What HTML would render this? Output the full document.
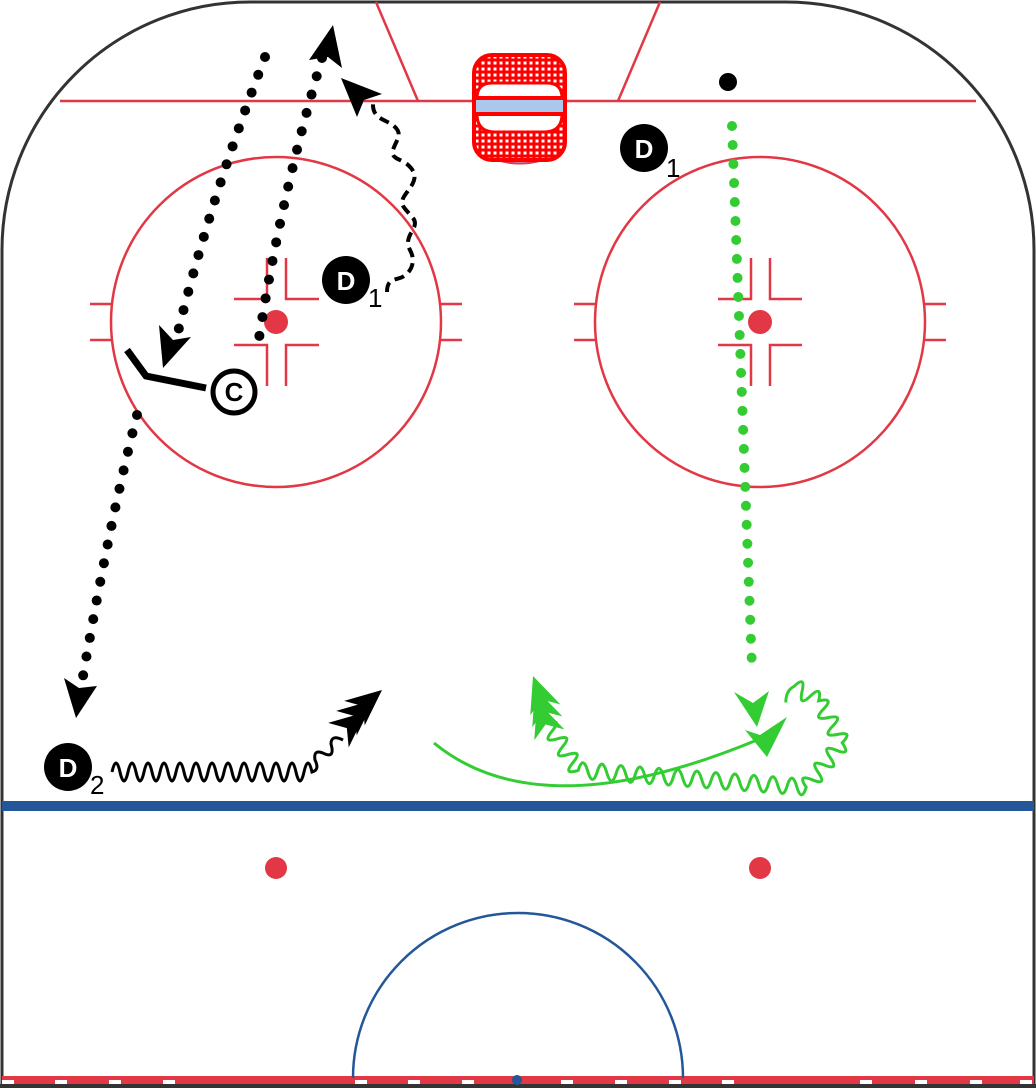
<!DOCTYPE html>
<html><head><style>html,body{margin:0;padding:0;background:#fff}svg{display:block}</style></head>
<body>
<svg width="1036" height="1088" viewBox="0 0 1036 1088" xmlns="http://www.w3.org/2000/svg">
<defs>
<pattern id="mesh" width="6" height="6" patternUnits="userSpaceOnUse"><rect width="6" height="6" fill="#f00"/><rect x="1.5" y="1.5" width="3" height="3" fill="#fff"/></pattern>
<path id="chev" d="M0 0 L-30 -13 L-21 0 L-30 13 Z"/>
<path id="chev2" d="M0 0 L-36 -16 L-25 0 L-36 16 Z"/>
</defs>
<path d="M2 1088 V250 A248 248 0 0 1 250 2 H786 A248 248 0 0 1 1034 250 V1088" fill="none" stroke="#333" stroke-width="3"/>
<rect x="2" y="1076" width="1032" height="8" fill="#e23744"/>
<g fill="#fff">
<rect x="2" y="1080" width="12" height="4"/><rect x="55" y="1080" width="12" height="4"/><rect x="109" y="1080" width="12" height="4"/><rect x="163" y="1080" width="12" height="4"/><rect x="355" y="1080" width="12" height="4"/><rect x="408" y="1080" width="12" height="4"/><rect x="462" y="1080" width="12" height="4"/><rect x="561" y="1080" width="12" height="4"/><rect x="615" y="1080" width="12" height="4"/><rect x="669" y="1080" width="12" height="4"/><rect x="722" y="1080" width="12" height="4"/><rect x="860" y="1080" width="12" height="4"/><rect x="915" y="1080" width="12" height="4"/><rect x="970" y="1080" width="12" height="4"/><rect x="1020" y="1080" width="12" height="4"/>
</g>
<rect x="0" y="1084" width="1036" height="4" fill="#333"/>
<g stroke="#e23744" stroke-width="2.5" fill="none">
<line x1="60" y1="101" x2="976" y2="101"/>
<line x1="376" y1="2" x2="418" y2="101"/>
<line x1="660" y1="2" x2="618" y2="101"/>
<circle cx="276" cy="322" r="165"/>
<circle cx="760" cy="322" r="165"/>
<path d="M90 304H112M90 340H112M440 304H462M440 340H462"/>
<path d="M574 304H596M574 340H596M924 304H946M924 340H946"/>
<path d="M267 258V299H234M286 258V299H319M267 386V345H234M286 386V345H319"/>
<path d="M751 258V299H718M770 258V299H802M751 386V345H718M770 386V345H802"/>
</g>
<g fill="#e23744"><circle cx="276" cy="322" r="12"/><circle cx="760" cy="322" r="12"/><circle cx="276" cy="868" r="11"/><circle cx="760" cy="868" r="11"/></g>
<path d="M484 155 Q520 172 556 155" fill="#a9c8ec" stroke="#e23744" stroke-width="2"/>
<rect x="474" y="55" width="91" height="105" rx="18" fill="url(#mesh)" stroke="#f00" stroke-width="4"/>
<rect x="476" y="98" width="87" height="15" fill="#a9c8ec"/>
<path d="M477 98 Q477 83 492 83 H547 Q562 83 562 98 Z" fill="#fff" stroke="#f00" stroke-width="3"/>
<path d="M477 114 Q477 132 495 132 H544 Q562 132 562 114 Z" fill="#fff" stroke="#f00" stroke-width="3"/>
<line x1="474" y1="98" x2="565" y2="98" stroke="#f00" stroke-width="4"/>
<line x1="474" y1="114" x2="565" y2="114" stroke="#f00" stroke-width="4"/>
<rect x="2" y="801" width="1032" height="10" fill="#23579a"/>
<path d="M353 1078 A165 165 0 0 1 683 1078" fill="none" stroke="#23579a" stroke-width="2.5"/>
<circle cx="517" cy="1080" r="5" fill="#23579a"/>

<g fill="none" stroke="#000" stroke-width="10" stroke-linecap="round" stroke-dasharray="0 19">
<path d="M265 57 Q210 200 176 340"/>
<path d="M322 58 Q280 200 258 345"/>
<path d="M137 415 Q110 520 82 682"/>
</g>
<path d="M163 368 L159 325 L173 340 L191 337 Z" fill="#000"/>
<path d="M333 25 L342 68 L328 57 L309 60 Z" fill="#000"/>
<path d="M76 718 L64 678 L79 688 L97 686 Z" fill="#000"/>
<path d="M387 292 C387 280 393 280 400 278 S418 265 410 250 S421 228 413 218 S398 205 405 195 S419 178 411 168 S390 160 393 150 S403 135 395 127 S372 120 373 103" fill="none" stroke="#000" stroke-width="4" stroke-dasharray="10 6"/>
<path d="M341 78 L382 94 L364 100 L357 117 Z" fill="#000"/>
<path d="M127 350 L146 376 L206 388" fill="none" stroke="#000" stroke-width="7" stroke-linejoin="miter"/>
<circle cx="234" cy="392" r="21" fill="#fff" stroke="#000" stroke-width="5"/>
<text x="234" y="401" font-family="Liberation Sans, sans-serif" font-weight="bold" font-size="26" fill="#000" text-anchor="middle">C</text>

<g font-family="Liberation Sans, sans-serif">
<circle cx="346" cy="280" r="24" fill="#000"/>
<text x="346" y="290" font-weight="bold" font-size="26" fill="#fff" text-anchor="middle">D</text>
<text x="368" y="307" font-size="26" fill="#000">1</text>
<circle cx="644" cy="148" r="24" fill="#000"/>
<text x="644" y="158" font-weight="bold" font-size="26" fill="#fff" text-anchor="middle">D</text>
<text x="666" y="177" font-size="26" fill="#000">1</text>
<circle cx="68" cy="767" r="24" fill="#000"/>
<text x="68" y="777" font-weight="bold" font-size="26" fill="#fff" text-anchor="middle">D</text>
<text x="90" y="794" font-size="26" fill="#000">2</text>
</g>
<circle cx="728" cy="82" r="9" fill="#000"/>

<path d="M112 772 q4 -18 8 0 t8 0 t8 0 t8 0 t8 0 t8 0 t8 0 t8 0 t8 0 t8 0 t8 0 t8 0 t8 0 t8 0 t8 0 t8 0 t8 0 t8 0 t8 0 t8 0 t8 0 t8 0 t8 0 t8 0 t8 0 q8 -2 3 -12 q-2 -12 10 -6 q10 4 6 -10 q0 -10 12 -4" fill="none" stroke="#000" stroke-width="3"/>
<g fill="#000">
<use href="#chev2" transform="translate(382 690) rotate(-40)"/>
<use href="#chev2" transform="translate(374 700) rotate(-40)"/>
<use href="#chev2" transform="translate(366 712) rotate(-40)"/>
</g>

<g fill="none" stroke="#33cc33" stroke-width="10" stroke-linecap="round" stroke-dasharray="0 19">
<path d="M732 126 Q742 400 752 668"/>
</g>
<path d="M757 727 L734 692 L753 703 L769 691 Z" fill="#33cc33"/>
<path d="M434 743 Q540 830 757 740" fill="none" stroke="#33cc33" stroke-width="3"/>
<path d="M767 757 L745 730 L760 735 L787 717 Z" fill="#33cc33"/>
<path d="M547 723 q15.9 -4.9 5.2 7.9 t5.2 7.9 t5.2 7.9 t5.2 7.9 t5.2 7.9 t5.2 7.9 q4.75 -15.6 9.5 0.7 t9.5 0.7 t9.5 0.7 t9.5 0.7 t9.5 0.7 t9.5 0.7 t9.5 0.7 t9.5 0.7 t9.5 0.7 t9.5 0.7 t9.5 0.7 t9.5 0.7 t9.5 0.7 t9.5 0.7 t9.5 0.7 t9.5 0.7 t9.5 0.7 t9.5 0.7 t9.5 0.7 t9.5 0.7 t9.5 0.7 t9.5 0.7 t9.5 0.7 t9.5 0.7 q-9.5 -13.7 6 -7.4 t6 -7.4 t6 -7.4 t6 -7.4 t6 -7.4 t6 -7.4 q11.7 -12 -4.7 -8.4 t-4.7 -8.4 t-4.7 -8.4 t-4.7 -8.4 t-4.7 -8.4 q3.85 -16.4 -8.3 -4.75 t-8.3 -4.75 t-8.3 -4.75 q-8 4 -8 16" fill="none" stroke="#33cc33" stroke-width="3"/>
<g fill="#33cc33">
<use href="#chev2" transform="translate(533 676) rotate(-110)"/>
<use href="#chev2" transform="translate(535 688) rotate(-110)"/>
<use href="#chev2" transform="translate(537 701) rotate(-110)"/>
</g>
</svg>
</body></html>
